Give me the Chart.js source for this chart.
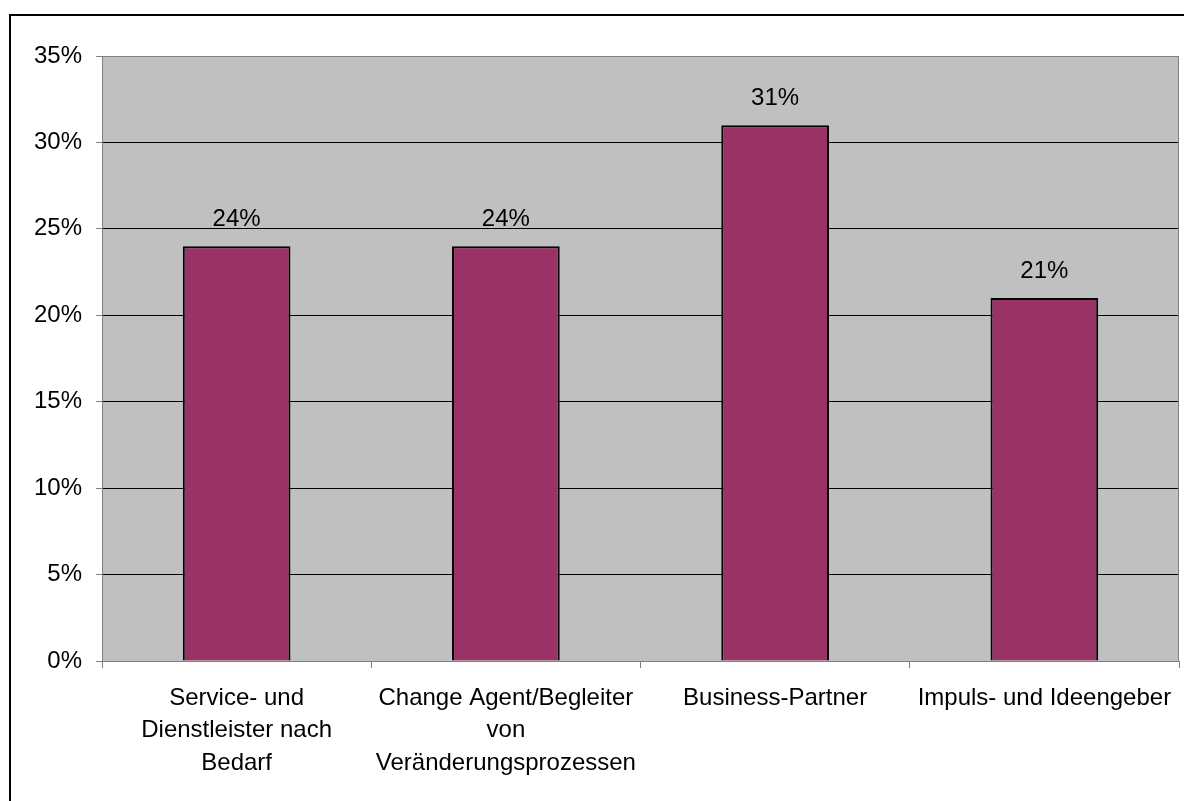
<!DOCTYPE html>
<html>
<head>
<meta charset="utf-8">
<script src="https://cdn.jsdelivr.net/npm/chart.js@4.4.1/dist/chart.umd.min.js"></script>
<style>
  html, body { margin: 0; padding: 0; background: #fff; }
  #wrap { width: 1184px; height: 801px; position: relative; }
</style>
</head>
<body>
<div id="wrap"><canvas id="c" width="1184" height="801"></canvas></div>
<script>
// Rollenverständnis: Anteil der Nennungen je Rolle
const categories = [
  ["Service- und", "Dienstleister nach", "Bedarf"],
  ["Change Agent/Begleiter", "von", "Veränderungsprozessen"],
  "Business-Partner",
  "Impuls- und Ideengeber"
];
const shares = [24, 24, 31, 21];
const yMin = 0;
const yMax = 35;
const yStep = 5;

const FONT = "'Liberation Sans', Arial, sans-serif";

// Frame, grey plot background and plot border
const framePlugin = {
  id: 'frame',
  beforeDraw(chart) {
    const { ctx, chartArea: a } = chart;
    ctx.save();
    ctx.fillStyle = '#ffffff';
    ctx.fillRect(0, 0, chart.width, chart.height);
    ctx.strokeStyle = '#000000';
    ctx.lineWidth = 2;
    ctx.strokeRect(10, 15, chart.width + 20, chart.height + 20);
    ctx.fillStyle = '#c0c0c0';
    ctx.fillRect(a.left, a.top, a.right - a.left, a.bottom - a.top);
    ctx.restore();
  },
  afterDatasetsDraw(chart) {
    const { ctx, chartArea: a } = chart;
    ctx.save();
    ctx.strokeStyle = '#808080';
    ctx.lineWidth = 1;
    ctx.strokeRect(a.left + 0.5, a.top + 0.5, a.right - a.left - 1, a.bottom - a.top);
    ctx.restore();
  }
};

// Value labels above each bar
const valueLabels = {
  id: 'valueLabels',
  afterDatasetsDraw(chart) {
    const { ctx } = chart;
    const meta = chart.getDatasetMeta(0);
    ctx.save();
    ctx.font = '24px ' + FONT;
    ctx.fillStyle = '#000';
    ctx.textAlign = 'center';
    ctx.textBaseline = 'alphabetic';
    meta.data.forEach((bar, i) => {
      ctx.fillText(shares[i] + '%', bar.x, bar.y - 20);
    });
    ctx.restore();
  }
};

new Chart(document.getElementById('c'), {
  type: 'bar',
  data: {
    labels: categories,
    datasets: [{
      data: shares,
      backgroundColor: '#993366',
      borderColor: '#000000',
      borderWidth: 2,
      barPercentage: 0.4,
      categoryPercentage: 1.0
    }]
  },
  options: {
    responsive: false,
    animation: false,
    layout: { padding: { left: 0, top: 56, right: 5, bottom: 0 } },
    plugins: {
      legend: { display: false },
      tooltip: { enabled: false }
    },
    scales: {
      x: {
        offset: true,
        afterFit(scale) {
          scale.height = 140;
          scale.paddingLeft = 0;
          scale.paddingRight = 0;
        },
        grid: {
          offset: true,
          drawOnChartArea: false,
          drawTicks: true,
          tickLength: 7,
          tickColor: '#808080'
        },
        border: { display: true, color: '#808080', width: 1 },
        ticks: {
          autoSkip: false,
          maxRotation: 0,
          minRotation: 0,
          padding: 14,
          color: '#000',
          font: { family: FONT, size: 24, lineHeight: 1.35 }
        }
      },
      y: {
        min: yMin,
        max: yMax,
        afterFit(scale) { scale.width = 102; },
        grid: {
          color: '#000000',
          lineWidth: 1,
          drawTicks: true,
          tickLength: 6,
          tickColor: '#808080'
        },
        border: { display: true, color: '#808080', width: 1 },
        ticks: {
          stepSize: yStep,
          padding: 14,
          color: '#000',
          font: { family: FONT, size: 24 },
          callback: v => v + '%'
        }
      }
    }
  },
  plugins: [framePlugin, valueLabels]
});
</script>
</body>
</html>
